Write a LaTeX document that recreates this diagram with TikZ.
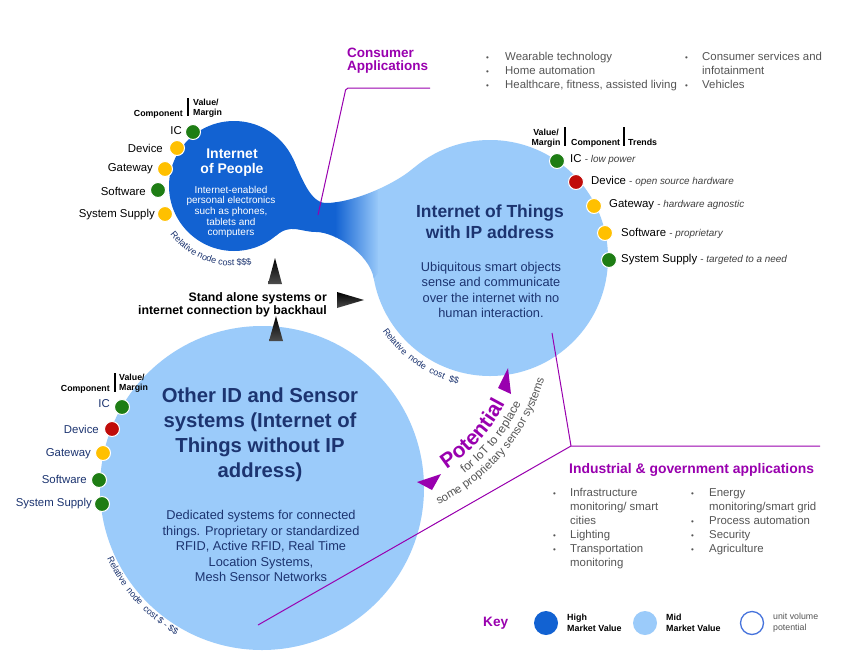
\documentclass[tikz,border=0pt]{standalone}
\usepackage{fontspec}
\setmainfont{Liberation Sans}
\usetikzlibrary{calc}
\definecolor{dblue}{RGB}{18,98,210}
\definecolor{lblue}{RGB}{155,203,250}
\definecolor{navy}{RGB}{28,52,112}
\definecolor{purp}{RGB}{153,0,175}
\definecolor{dgreen}{RGB}{30,125,20}
\definecolor{dyel}{RGB}{255,192,0}
\definecolor{dred}{RGB}{192,12,10}
\definecolor{gtext}{RGB}{85,85,85}
\definecolor{keyring}{RGB}{70,115,220}
\newcommand\bul{\makebox[0pt][l]{\fontsize{8}{8}\selectfont\textbullet}}
\newcommand\trd[1]{{\fontsize{9.9}{12}\selectfont\color{black!75} - \textit{#1}}}
\newdimen\archw
\newdimen\archtot
\newbox\archbox
% measure outside the picture: #1 name, #2 radius (pt), #3 centre angle, #4 font, #5 comma list of characters
\newcommand\arcprep[5]{%
  \global\archtot=0pt\relax
  \foreach \ch in {#5}{\setbox\archbox=\hbox{#4\ch}\global\advance\archtot by \wd\archbox}%
  \pgfmathsetmacro\arcst{#3-(\the\archtot/2)/(#2)*180/pi}%
  \xdef\arcang{\arcst}%
  \gdef\arcacc{}%
  \foreach \ch in {#5}{%
    \setbox\archbox=\hbox{#4\ch}\archw=\wd\archbox
    \pgfmathsetmacro\archalf{(\the\archw/2)/(#2)*180/pi}%
    \pgfmathsetmacro\archpos{\arcang+\archalf}%
    \ifx\arcacc\empty
      \xdef\arcacc{\archpos/\unexpanded\expandafter{\ch}}%
    \else
      \xdef\arcacc{\unexpanded\expandafter{\arcacc},\archpos/\unexpanded\expandafter{\ch}}%
    \fi
    \pgfmathsetmacro\archnext{\arcang+2*\archalf}%
    \xdef\arcang{\archnext}%
  }%
  \expandafter\global\expandafter\let\csname arcl@#1\endcsname\arcacc
}
% draw inside the picture: #1 name, #2 centre coordinate, #3 radius, #4 font
\newcommand\arcdraw[4]{%
  \expandafter\let\expandafter\arcl\csname arcl@#1\endcsname
  \foreach \a/\c in \arcl {\node[inner sep=0pt, anchor=base, rotate=\a+90] at ($(#2)+(\a:#3pt)$) {#4\c};}%
}
\newcommand\fRel{\fontsize{9}{9}\selectfont\color{navy}}
\newcommand\fPot{\fontsize{21}{21}\selectfont\bfseries\color{purp}}
\newcommand\fFor{\fontsize{12}{12}\selectfont\color{gtext}}
\newcommand\fSome{\fontsize{11.5}{12}\selectfont\color{gtext}}
\begin{document}
\arcprep{iop}{80}{-110}{\fRel}{R,e,l,a,t,i,v,e,~,n,o,d,e,~,c,o,s,t,~,\$,\$,\$}%
\arcprep{iot}{130}{-125}{\fRel}{R,e,l,a,t,i,v,e,~,~,n,o,d,e,~,~,c,o,s,t,~,~,\$,\$}%
\arcprep{oth}{170}{-138}{\fRel}{R,e,l,a,t,i,v,e,~,~,n,o,d,e,~,~,c,o,s,t,~,\$,~,-,~,\$,\$}%
\arcprep{pot}{175}{-42}{\fPot}{P,o,t,e,n,t,i,a,l}%
\arcprep{for}{189}{-39}{\fFor}{f,o,r,~,I,o,T,~,t,o,~,r,e,p,l,a,c,e}%
\arcprep{some}{202}{-40}{\fSome}{s,o,m,e,~,p,r,o,p,r,i,e,t,a,r,y,~,s,e,n,s,o,r,~,s,y,s,t,e,m,s}%
\begin{tikzpicture}[x=1pt,y=-1pt,
  dotb/.style={circle, draw=white, line width=1pt, minimum size=15pt, inner sep=0pt},
  gdot/.style={dotb, fill=dgreen},
  ydot/.style={dotb, fill=dyel},
  rdot/.style={dotb, fill=dred},
  lab/.style={font=\fontsize{11.4}{13}\selectfont, inner sep=0pt},
  hdr/.style={font=\bfseries\fontsize{8.8}{10}\selectfont, inner sep=0pt},
  plin/.style={draw=purp, line width=1pt},
  blk/.style={top color=black, bottom color=black!70},
  parr/.style={fill=purp},
  bar/.style={draw=black, line width=1.1pt},
  blist/.style={font=\fontsize{11.4}{14}\selectfont, text=gtext, inner sep=0pt, anchor=base west}
]
\useasboundingbox (0,0) rectangle (848,656);
\fill[white] (0,0) rectangle (848,656);

% ---------- main shapes
\coordinate (c1) at (234,186);
\coordinate (c2) at (490,258);
\coordinate (c3) at (262,488);
\coordinate (cp) at (350,323);
\fill[lblue] (c2) circle[radius=118];
\fill[lblue] (c3) circle[radius=162];
\fill[dblue] (c1) circle[radius=65];
\begin{scope}
\clip (292.9,158.5) .. controls (301.4,176.6) and (310,203) .. (326,203)
  .. controls (350,203) and (391,187) .. (414.2,167.6) -- (410,230) -- (373.8,278.5)
  .. controls (369.5,253.9) and (335,232) .. (316,232)
  .. controls (300,232) and (291,223) .. (275.8,235.8) -- (275,190) -- cycle;
\fill[dblue] (260,140) rectangle (336,300);
\shade[left color=dblue, right color=lblue] (335,140) rectangle (379,300);
\fill[lblue] (378,140) rectangle (430,300);
\end{scope}

% ---------- purple connector lines
\coordinate (cl1) at (318,215);
\coordinate (cl2) at (346,88);
\coordinate (cl3) at (430,88);
\draw[plin, rounded corners=2pt] (cl1) -- (cl2) -- (cl3);
\coordinate (il1) at (258,625);
\coordinate (il2) at (571,446);
\coordinate (il3) at (820,446);
\coordinate (il4) at (552,333);
\draw[plin] (il1) -- (il2) -- (il3);
\draw[plin] (il2) -- (il4);

% ---------- circle texts
\node[font=\bfseries\fontsize{14}{15}\selectfont, text=white, align=center, inner sep=0] (ioptitle) at (232,163) {Internet\\of People};
\node[font=\fontsize{10}{10.7}\selectfont, text=white, align=center, inner sep=0] (iopbody) at (231,212) {Internet-enabled\\personal electronics\\such as phones,\\tablets and\\computers};
\node[font=\bfseries\fontsize{17.5}{21}\selectfont, text=navy, align=center, inner sep=0] (iottitle) at (490,222) {Internet of Things\\with IP address};
\node[font=\fontsize{12.8}{15.3}\selectfont, text=navy, align=center, inner sep=0] (iotbody) at (491,290) {Ubiquitous smart objects\\sense and communicate\\over the internet with no\\human interaction.};
\node[font=\bfseries\fontsize{20.3}{25}\selectfont, text=navy, align=center, inner sep=0] (othtitle) at (260,435) {Other ID and Sensor\\systems (Internet of\\Things without IP\\address)};
\node[font=\fontsize{12.8}{15.5}\selectfont, text=navy, align=center, inner sep=0] (othbody) at (261,546) {Dedicated systems for connected\\things. Proprietary or standardized\\RFID, Active RFID, Real Time\\Location Systems,\\Mesh Sensor Networks};

% ---------- relative node cost texts (curved)
\arcdraw{iop}{c1}{80}{\fRel}
\arcdraw{iot}{c2}{130}{\fRel}
\arcdraw{oth}{c3}{170}{\fRel}

% ---------- top-left component list
\node[hdr, anchor=base east] (tlcomp) at (183,116) {Component};
\draw[bar] (188,98) -- (188,116);
\node[hdr, anchor=base west] (tlval) at (193,105) {\begin{tabular}[t]{@{}l@{}}Value/\\Margin\end{tabular}};
\node[lab, anchor=east] (tlic) at (182,131) {IC};
\node[lab, anchor=east] (tldev) at (163,148) {Device};
\node[lab, anchor=east] (tlgw) at (153,169) {Gateway};
\node[lab, anchor=east] (tlsw) at (146,191) {Software};
\node[lab, anchor=east] (tlss) at (155,215) {System Supply};
\node[gdot] (tld1) at (193,132) {};
\node[ydot] (tld2) at (177,148) {};
\node[ydot] (tld3) at (165,169) {};
\node[gdot] (tld4) at (158,190) {};
\node[ydot] (tld5) at (165,214) {};

% ---------- right component list
\node[hdr, anchor=base] (rval) at (546,135) {\begin{tabular}[t]{@{}c@{}}Value/\\Margin\end{tabular}};
\draw[bar] (565,127) -- (565,146);
\node[hdr, anchor=base west] (rcomp) at (571,145) {Component};
\draw[bar] (624,127) -- (624,146);
\node[hdr, anchor=base west] (rtr) at (628,145) {Trends};
\node[gdot] (rd1) at (557,161) {};
\node[rdot] (rd2) at (576,182) {};
\node[ydot] (rd3) at (594,206) {};
\node[ydot] (rd4) at (605,233) {};
\node[gdot] (rd5) at (609,260) {};
\node[lab, anchor=west] (ric) at (570,160) {IC \trd{low power}};
\node[lab, anchor=west] (rdev) at (591,181) {Device \trd{open source hardware}};
\node[lab, anchor=west] (rgw) at (609,205) {Gateway \trd{hardware agnostic}};
\node[lab, anchor=west] (rsw) at (621,233) {Software \trd{proprietary}};
\node[lab, anchor=west] (rss) at (621,260) {System Supply \trd{targeted to a need}};

% ---------- bottom-left component list
\node[hdr, anchor=base east] (blcomp) at (110,391) {Component};
\draw[bar] (115,373) -- (115,392);
\node[hdr, anchor=base west] (blval) at (119,380) {\begin{tabular}[t]{@{}l@{}}Value/\\Margin\end{tabular}};
\node[lab, text=navy, anchor=east] (blic) at (110,404) {IC};
\node[lab, text=navy, anchor=east] (bldev) at (99,429) {Device};
\node[lab, text=navy, anchor=east] (blgw) at (91,454) {Gateway};
\node[lab, text=navy, anchor=east] (blsw) at (87,479) {Software};
\node[lab, text=navy, anchor=east] (blss) at (92,504) {System Supply};
\node[gdot] (bld1) at (122,407) {};
\node[rdot] (bld2) at (112,429) {};
\node[ydot] (bld3) at (103,453) {};
\node[gdot] (bld4) at (99,480) {};
\node[gdot] (bld5) at (102,504) {};

% ---------- black arrows and stand-alone text
\shade[blk] (275,258) -- (268,284) -- (282,284) -- cycle;
\shade[blk] (276,316) -- (269,341) -- (283,341) -- cycle;
\shade[blk] (364,300) -- (337,292) -- (337,308) -- cycle;
\node[font=\bfseries\fontsize{12.3}{13}\selectfont, inner sep=0, anchor=base east] (stand) at (327,301) {\begin{tabular}[t]{@{}r@{}}Stand alone systems or\\internet connection by backhaul\end{tabular}};

% ---------- potential
\fill[parr] (508,368) -- (498,388) -- (511,394) -- cycle;
\fill[parr] (417,482) -- (441,474) -- (432,490) -- cycle;
\arcdraw{pot}{cp}{175}{\fPot}
\arcdraw{for}{cp}{189}{\fFor}
\arcdraw{some}{cp}{202}{\fSome}

% ---------- consumer applications
\node[font=\bfseries\fontsize{13.5}{13.5}\selectfont, text=purp, inner sep=0, anchor=base west] (cons) at (347,57) {\begin{tabular}[t]{@{}l@{}}Consumer\\Applications\end{tabular}};
\node[blist] (cl1t) at (486,60) {\begin{tabular}[t]{@{}l@{}}\bul\hspace{19pt}Wearable technology\\\bul\hspace{19pt}Home automation\\\bul\hspace{19pt}Healthcare, fitness, assisted living\end{tabular}};
\node[blist] (cl2t) at (685,60) {\begin{tabular}[t]{@{}l@{}}\bul\hspace{17pt}Consumer services and\\\hspace{17pt}infotainment\\\bul\hspace{17pt}Vehicles\end{tabular}};

% ---------- industrial applications
\node[font=\bfseries\fontsize{13.9}{14}\selectfont, text=purp, inner sep=0, anchor=base west] (ind) at (569,473) {Industrial \& government applications};
\node[blist] (il1t) at (553,496) {\begin{tabular}[t]{@{}l@{}}\bul\hspace{17pt}Infrastructure\\\hspace{17pt}monitoring/ smart\\\hspace{17pt}cities\\\bul\hspace{17pt}Lighting\\\bul\hspace{17pt}Transportation\\\hspace{17pt}monitoring\end{tabular}};
\node[blist] (il2t) at (691,496) {\begin{tabular}[t]{@{}l@{}}\bul\hspace{18pt}Energy\\\hspace{18pt}monitoring/smart grid\\\bul\hspace{18pt}Process automation\\\bul\hspace{18pt}Security\\\bul\hspace{18pt}Agriculture\end{tabular}};

% ---------- key
\node[font=\bfseries\fontsize{13.6}{14}\selectfont, text=purp, anchor=west, inner sep=0] (key) at (483,623) {Key};
\fill[dblue] (546,623) circle[radius=12];
\node[font=\bfseries\fontsize{8.9}{11}\selectfont, anchor=west, align=left, inner sep=0] (khigh) at (567,623) {High\\Market Value};
\fill[lblue] (645,623) circle[radius=12];
\node[font=\bfseries\fontsize{8.9}{11}\selectfont, anchor=west, align=left, inner sep=0] (kmid) at (666,623) {Mid\\Market Value};
\draw[keyring, line width=1.3pt] (752,623) circle[radius=11.5];
\node[font=\fontsize{8.8}{11}\selectfont, text=gtext, anchor=west, align=left, inner sep=0] (kunit) at (773,623) {unit volume\\potential};
\end{tikzpicture}
\end{document}
